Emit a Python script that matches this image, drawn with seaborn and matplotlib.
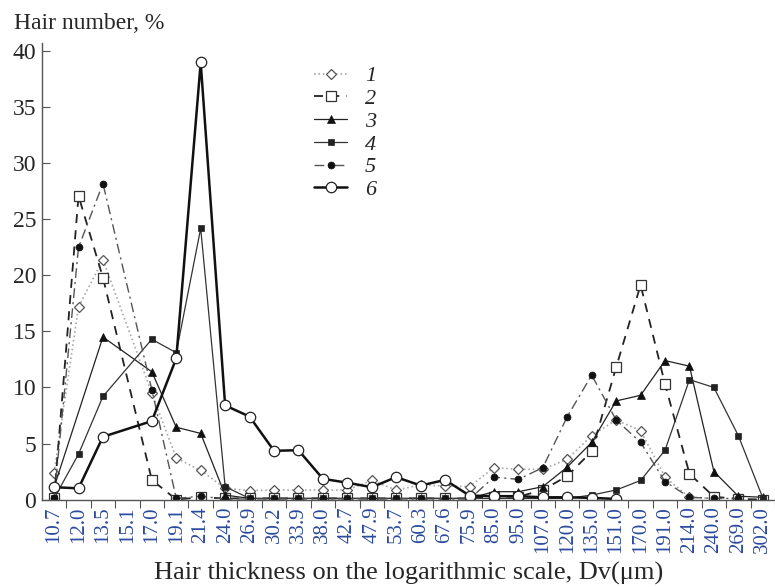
import numpy as np
import pandas as pd
import matplotlib
matplotlib.use('Agg')
import matplotlib.pyplot as plt
import seaborn as sns

nan = np.nan

# hair thickness classes (um), log scale
classes = ['10.7', '12.0', '13.5', '15.1', '17.0', '19.1', '21.4', '24.0', '26.9', '30.2',
           '33.9', '38.0', '42.7', '47.9', '53.7', '60.3', '67.6', '75.9', '85.0', '95.0',
           '107.0', '120.0', '135.0', '151.0', '170.0', '191.0', '214.0', '240.0', '269.0', '302.0']

s1 = [2.4, 17.2, 21.4, nan, 9.5, 3.7, 2.6, 1.0, 0.8, 0.85, 0.85, 0.85, 0.85, 1.7, 0.85,
      1.3, 1.2, 1.15, 2.85, 2.7, 2.7, 3.6, 5.7, 7.1, 6.15, 2.0, 0.2, 0.1, nan, nan]
s2 = [0.1, 27.1, 19.8, nan, 1.75, 0.0, 0.2, 0.1, 0.1, 0.1, 0.1, 0.1, 0.1, 0.1, 0.1,
      0.1, 0.1, 0.1, 0.25, 0.25, 0.85, 2.1, 4.3, 11.8, 19.15, 10.3, 2.3, 0.25, 0.05, 0.0]
s3 = [1.1, nan, 14.5, nan, 11.4, 6.45, 5.9, 0.4, 0.1, 0.1, 0.1, 0.1, 0.1, 0.1, 0.1,
      0.1, 0.1, 0.1, 0.7, 0.7, 1.15, 2.9, 5.1, 8.8, 9.3, 12.4, 11.9, 2.5, 0.3, 0.2]
s4 = [0.1, 4.05, 9.2, nan, 14.3, 13.1, 24.2, 1.15, 0.1, 0.1, 0.1, 0.1, 0.1, 0.1, 0.1,
      0.1, 0.1, 0.1, 0.1, 0.1, 0.1, 0.1, 0.4, 0.85, 1.7, 4.4, 10.7, 10.0, 5.7, 0.15]
s5 = [0.1, 22.5, 28.2, nan, 9.8, 0.1, 0.3, 0.05, 0.05, 0.05, 0.05, 0.05, 0.05, 0.05, 0.05,
      0.05, 0.05, 0.05, 2.0, 1.8, 2.85, 7.4, 11.1, 7.1, 5.1, 1.6, 0.2, 0.1, 0.1, nan]
s6 = [1.1, 1.0, 5.6, nan, 7.0, 12.6, 39.0, 8.4, 7.4, 4.35, 4.4, 1.85, 1.5, 1.1, 2.0,
      1.25, 1.75, 0.35, 0.3, 0.3, 0.2, 0.2, 0.15, 0.05, nan, nan, nan, nan, nan, nan]

series = {'1': s1, '2': s2, '3': s3, '4': s4, '5': s5, '6': s6}

rows = []
for name, vals in series.items():
    for i, v in enumerate(vals):
        rows.append({'group': name, 'pos': i, 'value': v})
df = pd.DataFrame(rows).dropna()

styles = {
    '1': dict(color='#a8a8a8', linestyle=':', lw=1.2, marker='D', ms=5.5, mfc='white', mec='#555555', mew=0.9),
    '2': dict(color='#222222', linestyle=(0, (5, 4)), lw=1.3, marker='s', ms=6.5, mfc='white', mec='#333333', mew=0.9),
    '3': dict(color='#222222', linestyle='-', lw=0.9, marker='^', ms=6, mfc='#111111', mec='#111111', mew=0.5),
    '4': dict(color='#333333', linestyle='-', lw=0.9, marker='s', ms=5, mfc='#222222', mec='#222222', mew=0.5),
    '5': dict(color='#555555', linestyle=(0, (7, 3, 1.5, 3)), lw=1.0, marker='o', ms=5, mfc='#111111', mec='#111111', mew=0.5),
    '6': dict(color='#111111', linestyle='-', lw=1.8, marker='o', ms=7.5, mfc='white', mec='#222222', mew=0.9),
}

sns.set_theme(style='white')
plt.rcParams['font.family'] = ['Liberation Serif', 'DejaVu Serif']

fig = plt.figure(figsize=(7.75, 5.87), dpi=100)
ax = fig.add_axes([0.054, 0.149, 0.946, 0.777])

for name in series:
    sub = df[df['group'] == name]
    sns.lineplot(data=sub, x='pos', y='value', ax=ax, label=name, **styles[name])

ax.set_xlim(-0.5, 29.2)
ax.set_ylim(0, 40.7)
ax.set_xlabel('')
ax.set_ylabel('')

ax.set_xticks(np.arange(len(classes)))
ax.set_xticklabels(classes, rotation=90, fontsize=15, color='#2b4a9e')
ax.set_xticks(np.arange(len(classes)) + 0.5, minor=True)
ax.tick_params(axis='x', which='major', length=0, pad=5)
ax.tick_params(axis='x', which='minor', length=6, width=0.8, direction='out', bottom=True, color='#555555')
ax.set_yticks(np.arange(0, 41, 5))
ax.tick_params(axis='y', which='major', length=6, width=0.8, direction='in', left=True,
               labelsize=17, pad=4, color='#555555')

sns.despine(ax=ax)
for sp in ['left', 'bottom']:
    ax.spines[sp].set_color('#555555')
    ax.spines[sp].set_linewidth(1.0)

leg = ax.legend(loc='upper left', bbox_to_anchor=(0.405, 0.888), bbox_transform=fig.transFigure,
                frameon=False, fontsize=16, handlelength=1.5, handletextpad=0.8,
                labelspacing=0.1, borderpad=0, borderaxespad=0)
for t in leg.get_texts():
    t.set_fontstyle('italic')

fig.text(14 / 775, 1 - 29 / 587, 'Hair number, %', ha='left', va='baseline', fontsize=17)
fig.text(0.527, 1 - 580 / 587, 'Hair thickness on the logarithmic scale, Dv(μm)',
         ha='center', va='baseline', fontsize=19)

fig.savefig('out.png', dpi=100)
